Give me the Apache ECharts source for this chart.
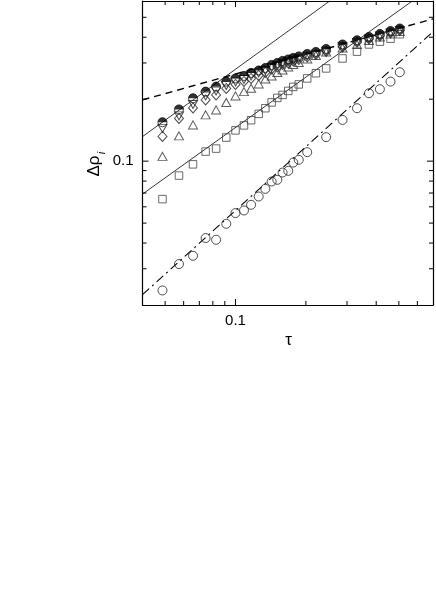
<!DOCTYPE html>
<html>
<head>
<meta charset="utf-8">
<script src="https://cdn.jsdelivr.net/npm/echarts@6/dist/echarts.min.js"></script>
<style>
  html, body { margin: 0; padding: 0; background: #fff; }
  #main { width: 436px; height: 605px; }
</style>
</head>
<body>
<div id="main"></div>
<script>
var chart = echarts.init(document.getElementById('main'));

var X_MIN = 0.04, X_MAX = 0.7;
var Y_MIN = 0.02, Y_MAX = 0.6;

// tau values shared by all symbol series
var tau = [0.0487, 0.0573, 0.0658, 0.0745, 0.0826, 0.0913, 0.1, 0.1087, 0.1166, 0.1257,
    0.1342, 0.1428, 0.151, 0.159, 0.1682, 0.1766, 0.1865, 0.2027, 0.2208, 0.2443,
    0.2871, 0.3311, 0.3724, 0.4148, 0.4607, 0.5047];

var halfFilled = [0.1546, 0.1784, 0.2021, 0.2177, 0.2302, 0.2435, 0.2523, 0.2595, 0.2683, 0.2759,
    0.2837, 0.2934, 0.3001, 0.3069, 0.3121, 0.3174, 0.3227, 0.3318, 0.3393, 0.3508,
    0.369, 0.3867, 0.4012, 0.415, 0.429, 0.4412];
var downTri = [0.1443, 0.166, 0.1886, 0.2075, 0.2194, 0.2333, 0.2427, 0.2495, 0.2595, 0.2683,
    0.2759, 0.2853, 0.2917, 0.2984, 0.3041, 0.3093, 0.3145, 0.3234, 0.3311, 0.3424,
    0.36, 0.3777, 0.3919, 0.4054, 0.4192, 0.431];
var diamonds = [0.1319, 0.1613, 0.1814, 0.1984, 0.2098, 0.2256, 0.2359, 0.244, 0.2523, 0.2609,
    0.2698, 0.2806, 0.287, 0.2951, 0.3001, 0.3069, 0.3121, 0.3209, 0.33, 0.3412,
    0.3588, 0.3781, 0.3924, 0.4058, 0.4197, 0.4315];
var upTri = [0.1055, 0.1327, 0.15, 0.1678, 0.1774, 0.1929, 0.2075, 0.2177, 0.2261, 0.2373,
    0.2509, 0.2595, 0.2698, 0.2774, 0.287, 0.2951, 0.3017, 0.3139, 0.3264, 0.3393,
    0.3548, 0.369, 0.3858, 0.4012, 0.415, 0.4266];
var squares = [0.0654, 0.0851, 0.0965, 0.1113, 0.1151, 0.1302, 0.1411, 0.1492, 0.1581, 0.1697,
    0.1808, 0.1929, 0.2029, 0.2098, 0.2194, 0.2295, 0.236, 0.2523, 0.2674, 0.2822,
    0.3155, 0.3404, 0.369, 0.3807, 0.3936, 0.4136];
var circles = [0.02353, 0.03162, 0.03469, 0.04229, 0.0415, 0.04961, 0.05594, 0.05759, 0.06137, 0.06732,
    0.07335, 0.07961, 0.08113, 0.08805, 0.08972, 0.0984, 0.1015, 0.1106, null, 0.1308,
    0.1586, 0.1808, 0.2138, 0.2236, 0.2435, 0.2704];

// fitted lines, endpoints
var fitSteep = [[0.04, 0.1316], [0.253, 0.6]];
var fitSquares = [[0.04, 0.0692], [0.571, 0.6]];
var fitDashed = [[0.04, 0.1984], [0.7, 0.491]];
var fitDashDot = [[0.04, 0.02244], [0.7, 0.4256]];

var xTicks = [0.05, 0.06, 0.07, 0.08, 0.09, 0.1, 0.2, 0.3, 0.4, 0.5, 0.6];
var yTicks = [0.03, 0.04, 0.05, 0.06, 0.07, 0.08, 0.09, 0.1, 0.2, 0.3, 0.4, 0.5];

function pairs(ys) {
    var out = [];
    tau.forEach(function (t, i) {
        if (ys[i] != null) out.push([t, ys[i]]);
    });
    return out;
}

function tickLen(v) {
    return Math.abs(Math.log10(v) - Math.round(Math.log10(v))) < 1e-6 ? 6 : 4;
}

function xTickItem(params, api) {
    var v = api.value(0);
    var len = tickLen(v);
    var b = api.coord([v, Y_MIN]);
    var t = api.coord([v, Y_MAX]);
    var st = { stroke: '#000', lineWidth: 1 };
    return {
        type: 'group',
        children: [
            { type: 'line', shape: { x1: b[0], y1: b[1], x2: b[0], y2: b[1] - len }, style: st },
            { type: 'line', shape: { x1: t[0], y1: t[1], x2: t[0], y2: t[1] + len }, style: st }
        ]
    };
}

function yTickItem(params, api) {
    var v = api.value(1);
    var len = tickLen(v);
    var l = api.coord([X_MIN, v]);
    var r = api.coord([X_MAX, v]);
    var st = { stroke: '#000', lineWidth: 1 };
    return {
        type: 'group',
        children: [
            { type: 'line', shape: { x1: l[0], y1: l[1], x2: l[0] + len, y2: l[1] }, style: st },
            { type: 'line', shape: { x1: r[0], y1: r[1], x2: r[0] - len, y2: r[1] }, style: st }
        ]
    };
}

function openSymbol(name, data, symbol, size, color, rotate) {
    return {
        name: name,
        type: 'scatter',
        data: data,
        symbol: symbol,
        symbolSize: size,
        symbolRotate: rotate || 0,
        itemStyle: { color: 'transparent', borderColor: color, borderWidth: 1 },
        z: 5
    };
}

function fitLine(data, type, width) {
    return {
        type: 'line',
        data: data,
        symbol: 'none',
        lineStyle: { color: '#000', width: width, type: type },
        z: 3
    };
}

var labelFmt = function (v) {
    return Math.abs(v - 0.1) < 1e-6 ? '0.1' : '';
};

var axisFont = { fontFamily: 'Liberation Sans', fontSize: 15, color: '#000' };
var frameLine = { show: true, lineStyle: { color: '#000', width: 1.2 } };

var option = {
    animation: false,
    backgroundColor: '#fff',
    grid: { left: 142.5, right: 1, top: 1, bottom: 300, containLabel: false },
    xAxis: [{
        type: 'log', logBase: 10, min: X_MIN, max: X_MAX, position: 'bottom',
        axisLine: frameLine, axisTick: { show: false }, splitLine: { show: false },
        axisLabel: Object.assign({ formatter: labelFmt, margin: 8 }, axisFont)
    }, {
        type: 'log', logBase: 10, min: X_MIN, max: X_MAX, position: 'top',
        axisLine: frameLine, axisTick: { show: false }, splitLine: { show: false },
        axisLabel: { show: false }
    }],
    yAxis: [{
        type: 'log', logBase: 10, min: Y_MIN, max: Y_MAX, position: 'left',
        axisLine: frameLine, axisTick: { show: false }, splitLine: { show: false },
        axisLabel: Object.assign({ formatter: labelFmt, margin: 9 }, axisFont)
    }, {
        type: 'log', logBase: 10, min: Y_MIN, max: Y_MAX, position: 'right',
        axisLine: frameLine, axisTick: { show: false }, splitLine: { show: false },
        axisLabel: { show: false }
    }],
    graphic: [{
        type: 'text', x: 288.5, y: 340, z: 10,
        style: { text: 'τ', fontFamily: 'Liberation Sans', fontSize: 17, fill: '#000',
            align: 'center', verticalAlign: 'middle' }
    }, {
        type: 'text', x: 94.5, y: 166, rotation: Math.PI / 2, z: 10,
        style: { text: 'Δρ', fontFamily: 'Liberation Sans', fontSize: 17, fill: '#000',
            align: 'center', verticalAlign: 'middle' }
    }, {
        type: 'text', x: 101.5, y: 153, rotation: Math.PI / 2, z: 10,
        style: { text: 'i', fontFamily: 'Liberation Sans', fontStyle: 'italic', fontSize: 11, fill: '#000',
            align: 'center', verticalAlign: 'middle' }
    }],
    series: [
        { type: 'custom', renderItem: xTickItem, data: xTicks.map(function (v) { return [v, Y_MIN]; }), z: 4, silent: true },
        { type: 'custom', renderItem: yTickItem, data: yTicks.map(function (v) { return [X_MIN, v]; }), z: 4, silent: true },
        fitLine(fitSteep, 'solid', 0.8),
        fitLine(fitSquares, 'solid', 0.8),
        fitLine(fitDashed, [7, 5], 1.4),
        fitLine(fitDashDot, [9, 4, 2, 4], 1.1),
        openSymbol('circles', pairs(circles), 'circle', 9, '#222'),
        openSymbol('squares', pairs(squares), 'rect', 7.5, '#444'),
        openSymbol('up', pairs(upTri), 'triangle', [9, 8], '#333'),
        openSymbol('diamonds', pairs(diamonds), 'diamond', [9, 10], '#222'),
        openSymbol('down', pairs(downTri), 'triangle', [9, 8], '#222', 180),
        openSymbol('half', pairs(halfFilled), 'circle', 9, '#111'),
        {
            name: 'halfTop',
            type: 'scatter',
            data: pairs(halfFilled),
            symbol: 'path://M0,10 A10,10 0 0,1 20,10 Z',
            symbolSize: [9, 4.5],
            symbolOffset: [0, -2.25],
            itemStyle: { color: '#000' },
            z: 6
        }
    ]
};

chart.setOption(option);
</script>
</body>
</html>
